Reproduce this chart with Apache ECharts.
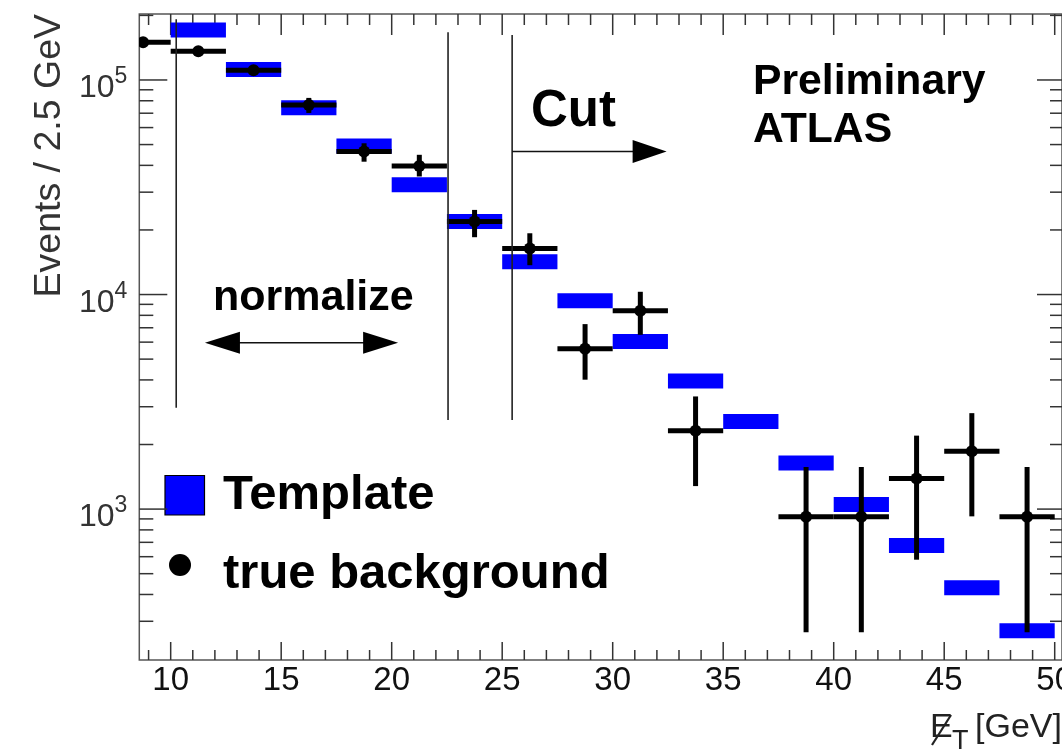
<!DOCTYPE html>
<html><head><meta charset="utf-8">
<script src="https://cdn.jsdelivr.net/npm/echarts@6/dist/echarts.min.js"></script>
<style>html,body{margin:0;padding:0;background:#fff}#c{width:1062px;height:755px}</style>
</head><body><div id="c"></div>
<script>
// ---- data ----
const binCenters   = [8.75, 11.25, 13.75, 16.25, 18.75, 21.25, 23.75, 26.25, 28.75, 31.25, 33.75, 36.25, 38.75, 41.25, 43.75, 46.25, 48.75];
const BIN_WIDTH = 2.5;
const templateValues = [null, 171000, 112000, 74300, 49200, 32500, 21900, 14200, 9350, 6040, 3950, 2560, 1640, 1050, 677, 430, 271];
const dataValues     = [150000, 136000, 111000, 76500, 46400, 39700, 21900, 16400, 5590, 8410, 2320, null, 920, 920, 1390, 1860, 920];
const dataErrHigh    = [153000, 139000, 114000, 82500, 50700, 44800, 24800, 19300, 7280, 10300, 3350, null, 1570, 1570, 2200, 2800, 1570];
const dataErrLow     = [147000, 133000, 108000, 70200, 41600, 35500, 18500, 13700, 4010, 6490, 1280, null, 267, 267, 581, 925, 267];

// ---- axes ----
const X_MIN = 8.58, X_MAX = 50.33, Y_MIN = 198, Y_MAX = 203000;
const xMajorTicks = [10, 15, 20, 25, 30, 35, 40, 45, 50];
const xMinorTicks = [9, 11, 12, 13, 14, 16, 17, 18, 19, 21, 22, 23, 24, 26, 27, 28, 29, 31, 32, 33, 34, 36, 37, 38, 39, 41, 42, 43, 44, 46, 47, 48, 49];
const yMajorTicks = [1000, 10000, 100000];
const yMinorTicks = [300, 400, 500, 600, 700, 800, 900, 2000, 3000, 4000, 5000, 6000, 7000, 8000, 9000,
                     20000, 30000, 40000, 50000, 60000, 70000, 80000, 90000, 200000];

// ---- annotations ----
const cutLineX      = [10.25, 22.55, 25.45];
const cutLineTop    = [192000, 167000, 162000];
const cutLineBottom = [2970, 2600, 2600];
const normArrowX = [11.55, 20.29], normArrowY = 5960;
const cutArrowX  = [25.45, 32.44], cutArrowY  = 46400;

const FONT = 'Liberation Sans, Arial, Helvetica, sans-serif';

function ln(x1, y1, x2, y2, w, c) {
  return {type: 'line', shape: {x1, y1, x2, y2}, style: {stroke: c || '#333', lineWidth: w || 1.5}};
}

function renderTicks(params, api) {
  const ch = [];
  const pb = api.coord([X_MIN, Y_MIN]), pt = api.coord([X_MAX, Y_MAX]);
  const xl = pb[0], yb = pb[1], xr = pt[0], yt = pt[1];
  xMajorTicks.forEach(v => { const x = api.coord([v, Y_MIN])[0]; ch.push(ln(x, yb, x, yb - 18)); ch.push(ln(x, yt, x, yt + 21)); });
  xMinorTicks.forEach(v => { const x = api.coord([v, Y_MIN])[0]; ch.push(ln(x, yb, x, yb - 10)); ch.push(ln(x, yt, x, yt + 11)); });
  yMajorTicks.forEach(v => { const y = api.coord([X_MIN, v])[1]; ch.push(ln(xl, y, xl + 28, y)); ch.push(ln(xr, y, xr - 25, y)); });
  yMinorTicks.forEach(v => { const y = api.coord([X_MIN, v])[1]; ch.push(ln(xl, y, xl + 14, y)); ch.push(ln(xr, y, xr - 12, y)); });
  return {type: 'group', children: ch};
}

function arrowHead(tip, dir, len, half) {
  return {type: 'polygon', shape: {points: [[tip[0], tip[1]], [tip[0] - dir * len, tip[1] - half], [tip[0] - dir * len, tip[1] + half]]},
          style: {fill: '#000'}};
}

function renderAnnotations(params, api) {
  const ch = [];
  cutLineX.forEach((x, i) => {
    const a = api.coord([x, cutLineBottom[i]]), b = api.coord([x, cutLineTop[i]]);
    ch.push(ln(a[0], a[1], b[0], b[1], 1.6, '#222'));
  });
  const nl = api.coord([normArrowX[0], normArrowY]), nr = api.coord([normArrowX[1], normArrowY]);
  ch.push(ln(nl[0] + 10, nl[1], nr[0] - 10, nr[1], 1.6, '#111'));
  ch.push(arrowHead(nl, -1, 35, 11));
  ch.push(arrowHead(nr, 1, 35, 11));
  const cl = api.coord([cutArrowX[0], cutArrowY]), cr = api.coord([cutArrowX[1], cutArrowY]);
  ch.push(ln(cl[0], cl[1], cr[0] - 10, cr[1], 1.6, '#111'));
  ch.push(arrowHead(cr, 1, 34, 11.5));
  return {type: 'group', children: ch};
}

const templateData = binCenters.map((c, i) => [c, templateValues[i]]).filter(d => d[1] != null);
const pointData = binCenters.map((c, i) => [c, dataValues[i], dataErrLow[i], dataErrHigh[i]]).filter(d => d[1] != null);

const chart = echarts.init(document.getElementById('c'), null, {renderer: 'canvas'});
chart.setOption({
  animation: false,
  backgroundColor: '#fff',
  grid: {left: 139.3, top: 14, right: 0, bottom: 95, show: true, borderColor: '#555', borderWidth: 1.5,
         backgroundColor: 'transparent', containLabel: false, outerBoundsMode: 'none'},
  xAxis: {
    type: 'value', min: X_MIN, max: X_MAX, splitNumber: 8,
    axisLine: {show: false}, axisTick: {show: false}, splitLine: {show: false},
    axisLabel: {
      fontSize: 33, color: '#111', fontFamily: FONT, margin: 4, showMinLabel: false, showMaxLabel: false, hideOverlap: false,
      formatter: v => xMajorTicks.some(t => Math.abs(t - v) < 1e-6) ? String(Math.round(v)) : ''
    }
  },
  yAxis: {
    type: 'log', logBase: 10, min: Y_MIN, max: Y_MAX,
    axisLine: {show: false}, axisTick: {show: false}, splitLine: {show: false},
    axisLabel: {
      margin: 12, showMinLabel: false, showMaxLabel: false,
      formatter: v => { const e = Math.log10(v), r = Math.round(e); return Math.abs(e - r) > 1e-6 ? '' : '{b|10}{s|' + r + '}'; },
      rich: {
        b: {fontSize: 32, fontFamily: FONT, color: '#333', padding: [17, 0, 0, 0], verticalAlign: 'top'},
        s: {fontSize: 23, fontFamily: FONT, color: '#333', padding: [10, 0, 0, 0], verticalAlign: 'top'}
      }
    }
  },
  series: [
    {type: 'custom', name: 'ticks', silent: true, data: [[X_MIN, Y_MIN]], renderItem: renderTicks, z: 1},
    {
      type: 'custom', name: 'Template', clip: true, silent: true, data: templateData, z: 2,
      renderItem: (params, api) => {
        const c = api.value(0), v = api.value(1);
        const p1 = api.coord([c - BIN_WIDTH / 2, v]), p2 = api.coord([c + BIN_WIDTH / 2, v]);
        return {type: 'rect', shape: {x: p1[0], y: p1[1] - 7.5, width: p2[0] - p1[0], height: 15}, style: {fill: '#0000ff'}};
      }
    },
    {
      type: 'custom', name: 'true background', clip: true, silent: true, data: pointData, z: 3,
      renderItem: (params, api) => {
        const c = api.value(0), v = api.value(1), lo = api.value(2), hi = api.value(3);
        const pl = api.coord([c - BIN_WIDTH / 2, v]), pr = api.coord([c + BIN_WIDTH / 2, v]);
        const pc = api.coord([c, v]), plo = api.coord([c, lo]), phi = api.coord([c, hi]);
        return {type: 'group', children: [
          ln(pl[0], pl[1], pr[0], pr[1], 5, '#000'),
          ln(plo[0], plo[1], phi[0], phi[1], 5, '#000'),
          {type: 'circle', shape: {cx: pc[0], cy: pc[1], r: 6}, style: {fill: '#000'}}
        ]};
      }
    },
    {type: 'custom', name: 'annotations', silent: true, data: [[X_MIN, Y_MIN]], renderItem: renderAnnotations, z: 4}
  ],
  graphic: [
    {type: 'text', x: 50, y: 14, rotation: Math.PI / 2,
     style: {text: 'Events / 2.5 GeV', fontSize: 37.5, fontFamily: FONT, fill: '#333', align: 'right', verticalAlign: 'middle'}},
    {type: 'text', x: 930, y: 727.7, style: {text: 'E', fontSize: 34, fontFamily: FONT, fill: '#222', align: 'left', verticalAlign: 'middle'}},
    {type: 'line', shape: {x1: 932, y1: 745, x2: 951, y2: 715}, style: {stroke: '#222', lineWidth: 2.2}},
    {type: 'text', x: 952, y: 741.5, style: {text: 'T', fontSize: 27, fontFamily: FONT, fill: '#222', align: 'left', verticalAlign: 'middle'}},
    {type: 'text', x: 975, y: 727.7, style: {text: '[GeV]', fontSize: 34, fontFamily: FONT, fill: '#222', align: 'left', verticalAlign: 'middle'}},
    {type: 'text', x: 213, y: 298.4, style: {text: 'normalize', fontSize: 43, fontWeight: 'bold', fontFamily: FONT, fill: '#000', align: 'left', verticalAlign: 'middle'}},
    {type: 'text', x: 531, y: 112, style: {text: 'Cut', fontSize: 51, fontWeight: 'bold', fontFamily: FONT, fill: '#000', align: 'left', verticalAlign: 'middle'}},
    {type: 'text', x: 753, y: 82.4, style: {text: 'Preliminary', fontSize: 42.7, fontWeight: 'bold', fontFamily: FONT, fill: '#000', align: 'left', verticalAlign: 'middle'}},
    {type: 'text', x: 753, y: 130.4, style: {text: 'ATLAS', fontSize: 42.7, fontWeight: 'bold', fontFamily: FONT, fill: '#000', align: 'left', verticalAlign: 'middle'}},
    {type: 'rect', shape: {x: 165, y: 475.5, width: 39.5, height: 39.5}, style: {fill: '#0000ff', stroke: '#000', lineWidth: 1.2}},
    {type: 'text', x: 223, y: 495.5, style: {text: 'Template', fontSize: 49, fontWeight: 'bold', fontFamily: FONT, fill: '#000', align: 'left', verticalAlign: 'middle'}},
    {type: 'circle', shape: {cx: 180, cy: 565, r: 11}, style: {fill: '#000'}},
    {type: 'text', x: 223, y: 574, style: {text: 'true background', fontSize: 49, fontWeight: 'bold', fontFamily: FONT, fill: '#000', align: 'left', verticalAlign: 'middle'}}
  ]
});
</script></body></html>
